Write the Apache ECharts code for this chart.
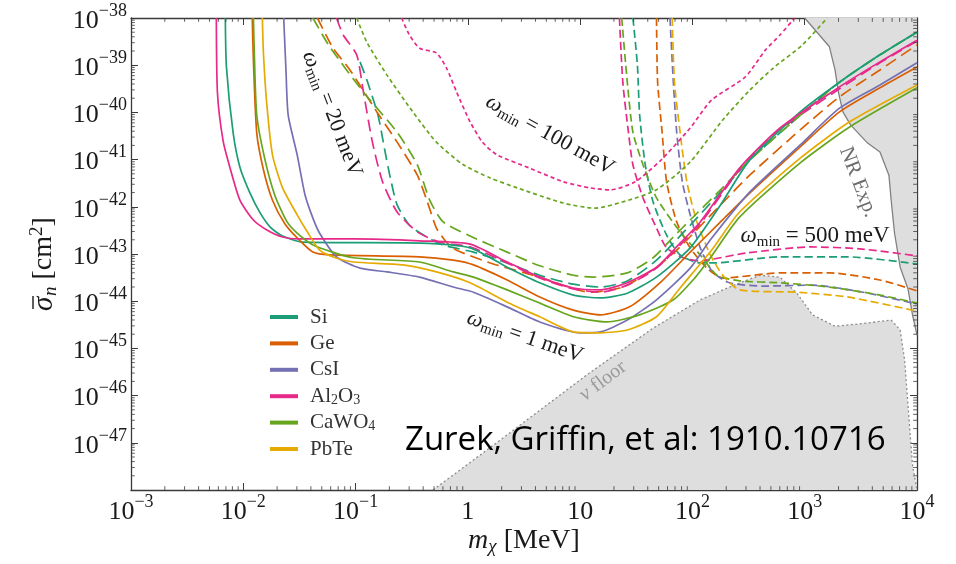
<!DOCTYPE html>
<html>
<head>
<meta charset="utf-8">
<script src="https://cdn.jsdelivr.net/npm/echarts@6/dist/echarts.min.js"></script>
<style>
  html, body { margin: 0; padding: 0; background: #fff; }
  #chart { width: 956px; height: 564px; }
</style>
</head>
<body>
<div id="chart"></div>
<script>
// Every point below is [log10(m_chi / MeV), log10(sigma_n / cm^2)].

// omega_min = 1 meV reach
const si_1meV = [[-2.16,-38],[-2.15,-39.04],[-2.09,-40.44],[-2.03,-41.16],[-1.94,-41.71],[-1.85,-42.13],[-1.76,-42.43],[-1.65,-42.62],[-1.47,-42.75],[-0.43,-42.77],[0.02,-42.87],[0.35,-43.28],[0.64,-43.61],[0.94,-43.87],[1.18,-43.93],[1.42,-43.83],[1.68,-43.49],[1.98,-42.87],[2.25,-41.96],[2.51,-41.01],[2.96,-39.99],[3.31,-39.36],[3.67,-38.78],[4.00,-38.30]];
const ge_1meV = [[-1.92,-38],[-1.91,-38.89],[-1.88,-40.44],[-1.82,-41.22],[-1.74,-41.86],[-1.63,-42.36],[-1.52,-42.66],[-1.38,-42.96],[-1.23,-43.02],[-0.43,-43.06],[-0.13,-43.13],[0.05,-43.23],[0.35,-43.55],[0.64,-43.91],[0.94,-44.19],[1.18,-44.29],[1.44,-44.12],[1.72,-43.59],[1.98,-42.96],[2.25,-42.32],[2.51,-41.71],[2.96,-40.73],[3.31,-39.99],[3.67,-39.48],[4.00,-39.04]];
const csi_1meV = [[-1.64,-38],[-1.62,-39.10],[-1.60,-40.06],[-1.52,-40.90],[-1.45,-41.75],[-1.38,-42.24],[-1.32,-42.56],[-1.17,-43.06],[-0.96,-43.30],[-0.72,-43.38],[-0.43,-43.49],[-0.13,-43.70],[0.05,-43.81],[0.35,-44.12],[0.64,-44.44],[1.00,-44.67],[1.18,-44.65],[1.42,-44.40],[1.68,-43.97],[1.98,-43.30],[2.16,-42.70],[2.51,-41.69],[2.96,-40.69],[3.31,-39.91],[3.67,-39.42],[4.00,-38.95]];
const al2o3_1meV = [[-2.24,-38],[-2.23,-39.59],[-2.18,-40.60],[-2.12,-41.16],[-2.03,-41.86],[-1.91,-42.28],[-1.79,-42.49],[-1.65,-42.64],[-1.50,-42.68],[-1.02,-42.68],[-0.43,-42.72],[0.02,-42.79],[0.35,-43.17],[0.64,-43.49],[0.94,-43.72],[1.18,-43.76],[1.42,-43.61],[1.68,-43.28],[1.89,-42.77],[2.07,-42.32],[2.42,-41.18],[2.78,-40.33],[3.31,-39.46],[3.67,-38.93],[4.00,-38.47]];
const cawo4_1meV = [[-1.91,-38],[-1.90,-38.89],[-1.88,-40.06],[-1.81,-40.97],[-1.72,-41.75],[-1.61,-42.32],[-1.50,-42.60],[-1.36,-42.83],[-1.02,-43.08],[-0.43,-43.17],[-0.13,-43.38],[0.05,-43.49],[0.35,-43.76],[0.64,-44.04],[0.94,-44.33],[1.24,-44.44],[1.53,-44.29],[1.83,-43.97],[2.02,-43.51],[2.16,-43.08],[2.42,-42.22],[2.96,-41.07],[3.40,-40.31],[4.00,-39.48]];
const pbte_1meV = [[-1.83,-38],[-1.82,-38.78],[-1.79,-39.84],[-1.74,-40.90],[-1.65,-41.60],[-1.52,-42.17],[-1.43,-42.53],[-1.32,-42.92],[-1.18,-43.08],[-1.02,-43.17],[-0.58,-43.23],[-0.28,-43.38],[0.02,-43.61],[0.35,-44.02],[0.64,-44.33],[0.94,-44.65],[1.18,-44.67],[1.42,-44.61],[1.68,-44.33],[1.89,-43.72],[2.17,-42.92],[2.42,-42.11],[2.96,-40.97],[3.40,-40.20],[4.00,-39.42]];

// omega_min = 20 meV reach
const si_20meV = [[-0.96,-38.93],[-0.90,-39.31],[-0.80,-40.06],[-0.74,-40.80],[-0.69,-41.39],[-0.63,-41.96],[-0.52,-42.39],[-0.38,-42.62],[-0.22,-42.81],[0.05,-42.96],[0.35,-43.19],[0.64,-43.45],[0.94,-43.64],[1.18,-43.70],[1.42,-43.57],[1.68,-43.13],[1.98,-42.39],[2.25,-41.69],[2.51,-41.01],[2.96,-40.06],[3.31,-39.36],[3.67,-38.78],[4.00,-38.30]];
const ge_20meV = [[-1.34,-38],[-1.20,-38.64],[-1.05,-39.10],[-0.81,-39.99],[-0.63,-40.63],[-0.45,-41.33],[-0.36,-41.90],[-0.28,-42.45],[-0.19,-42.75],[-0.10,-42.92],[0.20,-43.19],[0.64,-43.49],[1.09,-43.81],[1.38,-43.70],[1.68,-43.28],[1.89,-42.85],[2.25,-41.96],[2.51,-41.33],[2.96,-40.37],[3.31,-39.67],[3.67,-39.10],[4.00,-38.57]];
const al2o3_20meV = [[-1.17,-38],[-1.11,-38.36],[-0.99,-38.78],[-0.93,-39.57],[-0.85,-40.63],[-0.76,-41.47],[-0.63,-42.11],[-0.45,-42.53],[-0.25,-42.75],[0.02,-42.85],[0.35,-43.19],[0.64,-43.51],[0.94,-43.74],[1.18,-43.81],[1.42,-43.66],[1.68,-43.30],[1.89,-42.81],[2.07,-42.36],[2.42,-41.22],[2.78,-40.37],[3.31,-39.50],[3.67,-38.95],[4.00,-38.49]];
const cawo4_20meV = [[-1.38,-38],[-1.23,-38.61],[-0.93,-39.57],[-0.63,-40.42],[-0.45,-41.11],[-0.34,-41.86],[-0.22,-42.32],[0.02,-42.62],[0.35,-42.96],[0.64,-43.25],[0.94,-43.45],[1.11,-43.49],[1.42,-43.40],[1.65,-43.08],[1.83,-42.64],[1.98,-42.28],[2.25,-41.64],[2.51,-41.01],[2.96,-40.06],[3.31,-39.36],[3.67,-38.78],[4.00,-38.30]];

// omega_min = 100 meV reach
const al2o3_100meV = [[-0.59,-38],[-0.52,-38.36],[-0.43,-38.64],[-0.28,-38.74],[-0.19,-39.06],[-0.10,-39.57],[0.02,-40.20],[0.13,-40.63],[0.26,-40.90],[0.55,-41.18],[0.85,-41.47],[1.09,-41.60],[1.27,-41.64],[1.49,-41.47],[1.72,-41.01],[1.98,-40.33],[2.17,-39.74],[2.47,-39.25],[2.65,-38.68],[2.78,-38.36],[2.91,-38]];
const cawo4_100meV = [[-0.99,-38],[-0.90,-38.51],[-0.72,-39.21],[-0.49,-39.99],[-0.28,-40.63],[-0.04,-41.11],[0.20,-41.39],[0.44,-41.60],[0.85,-41.92],[1.13,-42.03],[1.43,-41.86],[1.68,-41.64],[1.98,-41.05],[2.27,-40.16],[2.51,-39.53],[2.72,-39.06],[2.98,-38.57],[3.20,-38]];

// omega_min = 500 meV reach
const si_500meV = [[1.47,-38],[1.51,-39.00],[1.53,-40.06],[1.58,-41.11],[1.65,-41.90],[1.77,-42.60],[1.89,-43.02],[2.07,-43.19],[2.18,-43.19],[2.78,-43.06],[3.38,-43.06],[4.00,-43.21]];
const ge_500meV = [[1.68,-38],[1.69,-39.36],[1.73,-40.42],[1.77,-41.47],[1.86,-42.32],[1.98,-42.87],[2.13,-43.30],[2.27,-43.51],[2.78,-43.40],[3.22,-43.40],[3.67,-43.55],[4.00,-43.78]];
const csi_500meV = [[1.80,-38],[1.83,-39.36],[1.86,-40.42],[1.91,-41.47],[1.98,-42.17],[2.07,-42.87],[2.18,-43.38],[2.33,-43.61],[2.63,-43.68],[3.07,-43.66],[3.52,-43.81],[4.00,-44.06]];
const al2o3_500meV = [[1.35,-38],[1.38,-39.36],[1.43,-40.42],[1.47,-41.11],[1.56,-41.81],[1.68,-42.45],[1.77,-42.87],[1.92,-43.08],[2.07,-43.15],[2.18,-43.11],[2.48,-42.98],[3.05,-42.85],[3.49,-42.89],[4.00,-43.04]];
const cawo4_500meV = [[1.37,-38],[1.42,-39.36],[1.47,-40.42],[1.56,-41.11],[1.68,-41.81],[1.89,-42.53],[2.07,-43.02],[2.22,-43.45],[2.42,-43.57],[2.78,-43.61],[3.22,-43.70],[3.67,-43.87],[4.00,-44.04]];
const pbte_500meV = [[1.82,-38],[1.84,-39.36],[1.89,-40.42],[1.95,-41.47],[2.04,-42.32],[2.16,-43.02],[2.27,-43.45],[2.42,-43.76],[2.93,-43.81],[3.38,-43.91],[4.00,-44.21]];

// Shaded regions: neutrino floor and existing nuclear-recoil limits
const nuFloor = [[-0.31,-48],[0.29,-46.94],[1.06,-45.56],[1.65,-44.57],[2.07,-43.97],[2.33,-43.70],[2.60,-43.45],[2.78,-43.49],[2.93,-43.83],[3.07,-44.29],[3.27,-44.53],[3.49,-44.48],[3.77,-44.40],[3.85,-44.61],[3.89,-45.25],[3.93,-46.52],[3.96,-47.47],[4.00,-48]];
const nrExp = [[3.00,-38],[3.22,-38.61],[3.27,-39.10],[3.30,-39.57],[3.34,-39.99],[3.41,-40.27],[3.56,-40.65],[3.67,-40.84],[3.75,-41.33],[3.77,-41.86],[3.80,-42.56],[3.85,-43.28],[3.92,-43.74],[3.96,-44.29],[4.00,-44.72]];

// Axis decades
const xDecades = [-3, -2, -1, 0, 1, 2, 3, 4];
const yDecades = [-48, -47, -46, -45, -44, -43, -42, -41, -40, -39, -38];

const SERIF = '"Liberation Serif","DejaVu Serif",serif';
const INK = '#1a1a1a';
const AXIS = '#3a3a3a';

const materials = [
  { key: 'Si',    color: '#1b9e77', runs: { 1: si_1meV, 20: si_20meV, 500: si_500meV } },
  { key: 'Ge',    color: '#d95f02', runs: { 1: ge_1meV, 20: ge_20meV, 500: ge_500meV } },
  { key: 'CsI',   color: '#7570b3', runs: { 1: csi_1meV, 500: csi_500meV } },
  { key: 'Al2O3', color: '#e7298a', runs: { 1: al2o3_1meV, 20: al2o3_20meV, 100: al2o3_100meV, 500: al2o3_500meV } },
  { key: 'CaWO4', color: '#66a61e', runs: { 1: cawo4_1meV, 20: cawo4_20meV, 100: cawo4_100meV, 500: cawo4_500meV } },
  { key: 'PbTe',  color: '#e6ab02', runs: { 1: pbte_1meV, 500: pbte_500meV } }
];
const dashFor = { 1: 'solid', 20: [12, 6], 100: [4, 3], 500: [8, 4] };
const legendText = { Si: 'Si', Ge: 'Ge', CsI: 'CsI', Al2O3: 'Al{sub|2}O{sub|3}', CaWO4: 'CaWO{sub|4}', PbTe: 'PbTe' };

// Log-decade minor ticks (2..9 within each decade) on all four frame sides.
// side: 0 bottom, 1 top, 2 left, 3 right
function buildMinorTicks() {
  const out = [];
  for (let i = 0; i < xDecades.length - 1; i++) {
    for (let k = 2; k <= 9; k++) {
      const v = xDecades[i] + Math.log10(k);
      out.push([v, yDecades[0], 0]);
      out.push([v, yDecades[yDecades.length - 1], 1]);
    }
  }
  for (let i = 0; i < yDecades.length - 1; i++) {
    for (let k = 2; k <= 9; k++) {
      const v = yDecades[i] + Math.log10(k);
      out.push([xDecades[0], v, 2]);
      out.push([xDecades[xDecades.length - 1], v, 3]);
    }
  }
  return out;
}

function powLabel(e) {
  if (e === 0) return '{b|1}';
  if (e === 1) return '{b|10}';
  return '{b|10}{s|' + (e < 0 ? '\u2212' : '') + Math.abs(e) + '}';
}
const tickRich = {
  b: { fontFamily: SERIF, fontSize: 26, color: INK, lineHeight: 32, verticalAlign: 'bottom' },
  s: { fontFamily: SERIF, fontSize: 18, color: INK, lineHeight: 18, verticalAlign: 'top' }
};

function frameAxis(kind, position, range, withLabels) {
  return {
    type: 'value', min: range[0], max: range[1], interval: 1, position: position,
    splitLine: { show: false }, axisPointer: { show: false },
    axisLine: { show: true, onZero: false, lineStyle: { color: AXIS, width: 1.3 } },
    axisTick: { show: true, inside: true, length: 7, lineStyle: { color: AXIS, width: 1 } },
    axisLabel: withLabels ? {
      show: true, margin: kind === 'x' ? 3 : 4, rich: tickRich,
      formatter: function (v) {
        const e = Math.round(v);
        if (kind === 'y' && e === -48) return '';
        return powLabel(e);
      }
    } : { show: false }
  };
}

const series = [
  {
    type: 'line', name: 'nu floor', data: nuFloor, symbol: 'none', z: 1, silent: true,
    lineStyle: { color: '#8c8c8c', width: 1.3, type: [2, 2.5] },
    areaStyle: { color: '#dedede', opacity: 1, origin: 'start' }
  },
  {
    type: 'line', name: 'NR exp', data: nrExp, symbol: 'none', z: 1, silent: true,
    lineStyle: { color: '#808080', width: 1.3 },
    areaStyle: { color: '#dedede', opacity: 1, origin: 'end' }
  },
  {
    type: 'custom', name: 'minor ticks', data: buildMinorTicks(), silent: true, z: 5, clip: false,
    renderItem: function (params, api) {
      const p = api.coord([api.value(0), api.value(1)]);
      const side = api.value(2);
      const L = 3.8;
      let shape;
      if (side === 0) shape = { x1: p[0], y1: p[1], x2: p[0], y2: p[1] - L };
      else if (side === 1) shape = { x1: p[0], y1: p[1], x2: p[0], y2: p[1] + L };
      else if (side === 2) shape = { x1: p[0], y1: p[1], x2: p[0] + L, y2: p[1] };
      else shape = { x1: p[0], y1: p[1], x2: p[0] - L, y2: p[1] };
      return { type: 'line', shape: shape, style: { stroke: AXIS, lineWidth: 0.8 } };
    }
  }
];
[500, 100, 20, 1].forEach(function (thr) {
  materials.forEach(function (m) {
    const data = m.runs[thr];
    if (!data) return;
    series.push({
      type: 'line',
      name: thr === 1 ? m.key : m.key + ' ' + thr + ' meV',
      data: data,
      symbol: 'none', showSymbol: false, smooth: 0.22, silent: true, z: 3,
      itemStyle: { color: m.color },
      lineStyle: { color: m.color, width: 1.7, type: dashFor[thr] }
    });
  });
});

function omega(rest) {
  return '{w|\u03c9}{m|min}{n| = ' + rest + '}';
}
function omegaRich(size) {
  return {
    w: { fontFamily: SERIF, fontStyle: 'italic', fontSize: size, fill: INK, lineHeight: size + 4 },
    m: { fontFamily: SERIF, fontSize: Math.round(size * 0.66), fill: INK, lineHeight: Math.round(size * 0.66), verticalAlign: 'bottom' },
    n: { fontFamily: SERIF, fontSize: size, fill: INK, lineHeight: size + 4 }
  };
}
function label(text, x, y, deg, rich, extra) {
  return {
    type: 'text', x: x, y: y, rotation: deg * Math.PI / 180, z: 50, silent: true,
    style: Object.assign({ text: text, rich: rich, fill: INK, align: 'center', verticalAlign: 'middle',
      fontFamily: SERIF, fontSize: 22 }, extra || {})
  };
}

// y-axis title: sigma with an overline, subscript n, then [cm^2]; drawn along the axis
const yTitle = {
  type: 'group', x: 44, y: 253, rotation: Math.PI / 2, z: 50, silent: true,
  children: [
    { type: 'text', x: -58, y: 0, style: { text: '\u03c3', fontFamily: SERIF, fontStyle: 'italic', fontSize: 29,
      fill: INK, align: 'left', verticalAlign: 'middle' } },
    { type: 'line', shape: { x1: -56, y1: -11, x2: -43, y2: -11 }, style: { stroke: INK, lineWidth: 1.4 } },
    { type: 'text', x: -43, y: 0, style: {
      text: '{n|n}{t| [cm}{p|2}{t|]}', fill: INK, align: 'left', verticalAlign: 'middle',
      fontFamily: SERIF, fontSize: 27,
      rich: {
        n: { fontFamily: SERIF, fontStyle: 'italic', fontSize: 19, fill: INK, lineHeight: 19, verticalAlign: 'bottom' },
        t: { fontFamily: SERIF, fontSize: 28, fill: INK, lineHeight: 32 },
        p: { fontFamily: SERIF, fontSize: 19, fill: INK, lineHeight: 19, verticalAlign: 'top' }
      }
    } }
  ]
};

const graphic = [
  label(omega('20 meV'), 332, 114, -69, omegaRich(22)),
  label(omega('100 meV'), 550, 135, -29, omegaRich(22)),
  label(omega('500 meV'), 815, 236, 0, omegaRich(23)),
  label(omega('1 meV'), 525, 337, -19, omegaRich(22)),
  label('NR Exp.', 858, 182, -69, null, { fill: '#6b6b6b', fontSize: 21 }),
  label('{v|\u03bd} floor', 603, 381, 37, {
    v: { fontFamily: SERIF, fontStyle: 'italic', fontSize: 21, fill: '#9a9a9a' }
  }, { fill: '#9a9a9a', fontSize: 20 }),
  {
    type: 'text', x: 405, y: 441, z: 60, silent: true,
    style: { text: 'Zurek, Griffin, et al: 1910.10716', fill: '#000', fontFamily: '"Open Sans","Noto Sans",sans-serif',
      fontSize: 33, align: 'left', verticalAlign: 'middle' }
  },
  label('{i|m}{c|\u03c7}{t| [MeV]}', 524, 541, 0, {
    i: { fontFamily: SERIF, fontStyle: 'italic', fontSize: 28, fill: INK, lineHeight: 31 },
    c: { fontFamily: SERIF, fontStyle: 'italic', fontSize: 19, fill: INK, lineHeight: 19, verticalAlign: 'bottom' },
    t: { fontFamily: SERIF, fontSize: 28, fill: INK, lineHeight: 31 }
  }),
  yTitle
];

const chart = echarts.init(document.getElementById('chart'), null, { renderer: 'canvas' });
chart.setOption({
  animation: false,
  backgroundColor: '#ffffff',
  grid: { left: 131, right: 39, top: 18, bottom: 74, containLabel: false, outerBoundsMode: 'none' },
  xAxis: [frameAxis('x', 'bottom', [-3, 4], true), frameAxis('x', 'top', [-3, 4], false)],
  yAxis: [frameAxis('y', 'left', [-48, -38], true), frameAxis('y', 'right', [-48, -38], false)],
  legend: {
    data: materials.map(function (m) { return m.key; }),
    orient: 'vertical', left: 270, top: 306, padding: 0, icon: 'rect', itemWidth: 28, itemHeight: 4, itemGap: 4.4,
    selectedMode: false,
    formatter: function (name) { return legendText[name]; },
    textStyle: {
      fontFamily: SERIF, fontSize: 21, color: '#333', lineHeight: 22, padding: [0, 0, 0, 7],
      rich: { sub: { fontFamily: SERIF, fontSize: 14, color: '#333', lineHeight: 14, verticalAlign: 'bottom' } }
    }
  },
  series: series,
  graphic: graphic
});
</script>
</body>
</html>
